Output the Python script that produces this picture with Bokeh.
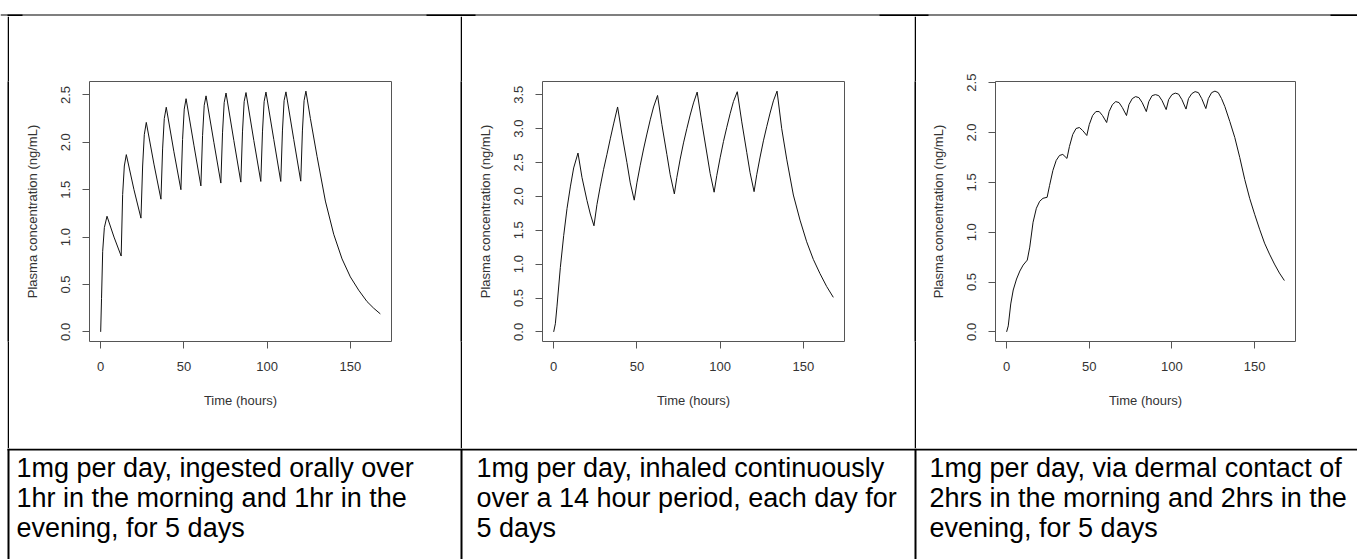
from bokeh.plotting import figure
from bokeh.models import Range1d, FixedTicker, PrintfTickFormatter
from bokeh.layouts import row, column
from bokeh.embed import file_html
from bokeh.resources import INLINE
from bokeh.core.properties import value

# ---------------- data ----------------
oral_t = [0, 0.5, 1.2, 2.2, 3.8, 8, 12.3,
          13.2, 14.2, 15.4, 20, 24.2,
          25.2, 26.2, 27.4, 32, 36.2,
          37.2, 38.2, 39.4, 44, 48.2,
          49.2, 50.2, 51.3, 56, 60.2,
          61.2, 62.2, 63.3, 68, 72.2,
          73.2, 74.2, 75.3, 80, 84.2,
          85.2, 86.2, 87.3, 92, 96.2,
          97.2, 98.2, 99.3, 104, 108.2,
          109.2, 110.2, 111.3, 116, 120.2,
          121.2, 122.2, 123.3, 126, 130, 135, 140, 145, 150, 155, 160, 164, 168]
oral_c = [0, 0.35, 0.85, 1.10, 1.22, 1.00, 0.80,
          1.45, 1.75, 1.87, 1.50, 1.20,
          1.75, 2.08, 2.21, 1.77, 1.40,
          1.93, 2.25, 2.37, 1.90, 1.50,
          2.03, 2.35, 2.46, 1.97, 1.54,
          2.07, 2.39, 2.49, 2.00, 1.57,
          2.10, 2.42, 2.52, 2.02, 1.58,
          2.11, 2.43, 2.525, 2.02, 1.587,
          2.11, 2.43, 2.53, 2.03, 1.587,
          2.12, 2.44, 2.532, 2.03, 1.59,
          2.12, 2.44, 2.54, 2.25, 1.85, 1.38, 1.03, 0.77, 0.58, 0.44, 0.32, 0.25, 0.19]

inhal_t = [0, 1, 2, 4, 6, 8, 10, 12, 14.6, 17, 20, 22, 24.2,
           26, 28, 30, 32, 34, 36, 38.4, 41, 44, 46, 48.4,
           50, 52, 54, 56, 58, 60, 62.4, 65, 68, 70, 72.5,
           74, 76, 78, 80, 82, 84, 86.2, 89, 92, 94, 96.4,
           98, 100, 102, 104, 106, 108, 110.3, 113, 116, 118, 120.4,
           122, 124, 126, 128, 130, 132, 134.2,
           137, 140, 144, 148, 152, 156, 160, 164, 168]
inhal_c = [0, 0.12, 0.38, 0.95, 1.42, 1.82, 2.14, 2.42, 2.64, 2.28, 1.94, 1.74, 1.566,
           1.88, 2.15, 2.40, 2.62, 2.85, 3.07, 3.32, 2.92, 2.50, 2.20, 1.944,
           2.20, 2.46, 2.70, 2.92, 3.13, 3.32, 3.49, 3.06, 2.62, 2.32, 2.037,
           2.28, 2.55, 2.79, 3.00, 3.20, 3.38, 3.54, 3.09, 2.64, 2.34, 2.062,
           2.31, 2.57, 2.81, 3.02, 3.22, 3.40, 3.545, 3.10, 2.65, 2.35, 2.07,
           2.32, 2.58, 2.82, 3.03, 3.23, 3.41, 3.554,
           3.00, 2.55, 2.02, 1.65, 1.33, 1.07, 0.86, 0.67, 0.51]

derm_t = [0, 1, 2.5, 4, 6, 8, 10, 12.5, 14, 16, 18, 20, 22, 24.5,
          26, 28, 30, 32, 34, 36.5, 38, 40, 42, 44, 46, 48.5,
          50, 52, 54, 56, 58, 60.5, 62, 64, 66, 68, 70, 72.5,
          74, 76, 78, 80, 82, 84.5, 86, 88, 90, 92, 94, 96.5,
          98, 100, 102, 104, 106, 108.5, 110, 112, 114, 116, 118, 120.5,
          122, 124, 126, 128, 130, 132, 135, 138, 141, 144, 147, 150,
          153, 156, 159, 162, 165, 168]
derm_c = [0, 0.06, 0.28, 0.42, 0.53, 0.61, 0.67, 0.72, 0.85, 1.10, 1.24, 1.31, 1.34, 1.35,
          1.47, 1.62, 1.72, 1.77, 1.78, 1.74, 1.86, 1.98, 2.04, 2.05, 2.02, 1.97,
          2.08, 2.17, 2.21, 2.21, 2.17, 2.10, 2.21, 2.28, 2.31, 2.30, 2.25, 2.17,
          2.28, 2.34, 2.36, 2.35, 2.30, 2.21, 2.31, 2.37, 2.38, 2.37, 2.32, 2.23,
          2.33, 2.38, 2.395, 2.385, 2.33, 2.235, 2.34, 2.39, 2.41, 2.40, 2.34, 2.24,
          2.34, 2.40, 2.415, 2.40, 2.34, 2.26, 2.11, 1.95, 1.75, 1.53, 1.34, 1.18,
          1.03, 0.89, 0.78, 0.68, 0.59, 0.515]

x_ticks = [0, 50, 100, 150]
oral_yticks = [0.0, 0.5, 1.0, 1.5, 2.0, 2.5]
inhal_yticks = [0.0, 0.5, 1.0, 1.5, 2.0, 2.5, 3.0, 3.5]
derm_yticks = [0.0, 0.5, 1.0, 1.5, 2.0, 2.5]

x_label = "Time (hours)"
y_label = "Plasma concentration (ng/mL)"

captions = [
    ["1mg per day, ingested orally over", "1hr in the morning and 1hr in the", "evening, for 5 days"],
    ["1mg per day, inhaled continuously", "over a 14 hour period, each day for", "5 days"],
    ["1mg per day, via dermal contact of", "2hrs in the morning and 2hrs in the", "evening, for 5 days"],
]

# ---------------- layout constants ----------------
W = 1357
TOP_H = 16
ROW_H = 432
CAP_H = 111
FONT = "Liberation Sans"
TXT = "#333333"


def make_plot(t, c, yticks, xr, yr, width, mbl, mbr):
    p = figure(width=width, height=ROW_H, x_range=Range1d(*xr), y_range=Range1d(*yr),
               output_backend="svg", toolbar_location=None,
               min_border_left=mbl, min_border_right=mbr,
               min_border_top=65, min_border_bottom=ROW_H - 65 - 260,
               background_fill_color="white", border_fill_color="white")
    p.grid.visible = False
    p.outline_line_color = "#555555"
    p.outline_line_width = 1
    p.outline_line_alpha = 1.0
    p.line(t, c, line_color="#111111", line_width=1)
    p.xaxis.ticker = FixedTicker(ticks=x_ticks)
    p.yaxis.ticker = FixedTicker(ticks=yticks)
    p.yaxis.formatter = PrintfTickFormatter(format="%.1f")
    for ax in (p.xaxis[0], p.yaxis[0]):
        ax.axis_line_color = None
        ax.major_tick_out = 7
        ax.major_tick_in = 0
        ax.major_tick_line_color = "#555555"
        ax.minor_tick_line_color = None
        ax.major_label_text_font = FONT
        ax.major_label_text_font_size = "13px"
        ax.major_label_text_color = TXT
        ax.axis_label_text_font = FONT
        ax.axis_label_text_font_size = "13px"
        ax.axis_label_text_font_style = "normal"
        ax.axis_label_text_color = TXT
    p.xaxis.axis_label = x_label
    p.yaxis.axis_label = y_label
    p.xaxis.major_label_standoff = 13
    p.xaxis.axis_label_standoff = 19
    p.yaxis.major_label_orientation = "vertical"
    p.yaxis.major_label_standoff = 12
    p.yaxis.axis_label_standoff = 19
    return p


def block(w, h, color="black"):
    f = figure(width=w, height=h, output_backend="svg", toolbar_location=None,
               min_border=0, x_axis_location=None, y_axis_location=None,
               background_fill_color=color, border_fill_color=color,
               outline_line_color=None)
    f.grid.visible = False
    return f


def canvas(h):
    f = figure(width=W, height=h, x_range=Range1d(0, W), y_range=Range1d(h, 0),
               output_backend="svg", toolbar_location=None, min_border=0,
               x_axis_location=None, y_axis_location=None,
               background_fill_color="white", border_fill_color="white",
               outline_line_color=None)
    f.grid.visible = False
    return f


# top strip: table top rule
top = canvas(TOP_H)
top.quad(left=[0], right=[W], top=[14], bottom=[15], color="black", line_width=0)
top.quad(left=[7, 426, 879, 1330], right=[22, 475, 928, W],
         top=[14] * 4, bottom=[16] * 4, color="black", line_width=0)

# plots
p1 = make_plot(oral_t, oral_c, oral_yticks, (-6.72, 174.72), (-0.1016, 2.6416), 451, 80, 69)
p2 = make_plot(inhal_t, inhal_c, inhal_yticks, (-6.72, 174.72), (-0.142, 3.696), 452, 80, 70)
p3 = make_plot(derm_t, derm_c, derm_yticks, (-6.72, 174.72), (-0.0966, 2.5116), 441, 79, 62)

plots_row = row(block(7, ROW_H, "white"), block(2, ROW_H), p1, block(2, ROW_H), p2,
                block(2, ROW_H), p3)

# caption strip
cap = canvas(CAP_H)
cap.quad(left=[7], right=[W], top=[0], bottom=[2], color="black", line_width=0)
cap.quad(left=[7, 460, 914], right=[9, 462, 916], top=[0] * 3, bottom=[CAP_H] * 3,
         color="black", line_width=0)
col_x = [16, 476, 929]
line_y = [19, 49, 79]
for cx, lines in zip(col_x, captions):
    cap.text(x=[cx] * len(lines), y=line_y[:len(lines)], text=lines,
             text_font=value(FONT), text_font_size="27px", text_color="black",
             text_baseline="alphabetic", text_align="left")

layout = column(top, plots_row, cap)

open("out.html", "w").write(file_html(layout, INLINE))
